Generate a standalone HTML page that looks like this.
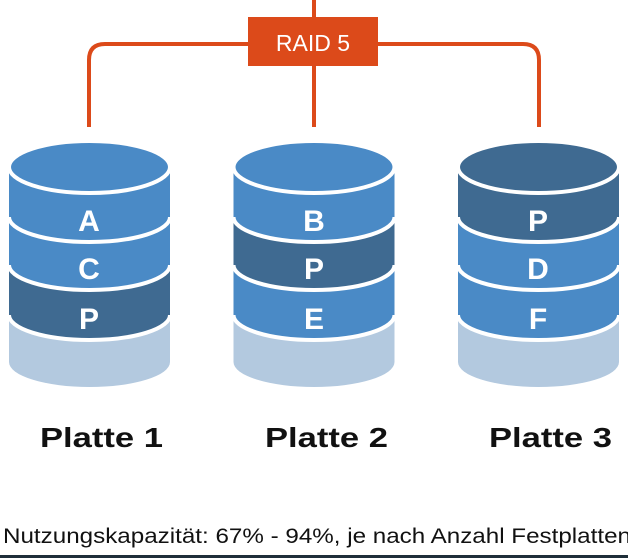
<!DOCTYPE html>
<html><head><meta charset="utf-8"><style>
html,body{margin:0;padding:0;background:#fff;width:628px;height:558px;overflow:hidden}
</style></head><body>
<svg width="628" height="558" viewBox="0 0 628 558" xmlns="http://www.w3.org/2000/svg" style="display:block">
<g fill="none" stroke="#dc4a1a" stroke-width="4">
<line x1="314" y1="0" x2="314" y2="18"/>
<line x1="314" y1="66" x2="314" y2="127"/>
<path d="M89 127 V60 Q89 44 105 44 H523 Q539 44 539 60 V127"/>
</g>
<rect x="248" y="17" width="130" height="49" fill="#dc4a1a"/>
<text x="313" y="51" font-family="Liberation Sans, sans-serif" font-size="23" fill="#fff" text-anchor="middle">RAID 5</text>
<defs>
<g id="arcs" fill="none" stroke="#fff" stroke-width="4">
<path d="M9 217 A80.5 25 0 0 0 170 217"/>
<path d="M9 265 A80.5 25 0 0 0 170 265"/>
<path d="M9 315 A80.5 25 0 0 0 170 315"/>
</g>
</defs>
<g>
<path d="M9 315 V362 A80.5 25 0 0 0 170 362 V315 Z" fill="#b3c9df"/>
<path d="M9 265 V315 A80.5 25 0 0 0 170 315 V265 Z" fill="#3f6a91"/>
<path d="M9 217 V265 A80.5 25 0 0 0 170 265 V217 Z" fill="#4a8ac6"/>
<path d="M9 167 V217 A80.5 25 0 0 0 170 217 V167 Z" fill="#4a8ac6"/>
<use href="#arcs"/>
<ellipse cx="89.5" cy="167" rx="80.5" ry="26" fill="#4a8ac6" stroke="#fff" stroke-width="4"/>
</g>
<g transform="translate(224.5 0)">
<path d="M9 315 V362 A80.5 25 0 0 0 170 362 V315 Z" fill="#b3c9df"/>
<path d="M9 265 V315 A80.5 25 0 0 0 170 315 V265 Z" fill="#4a8ac6"/>
<path d="M9 217 V265 A80.5 25 0 0 0 170 265 V217 Z" fill="#3f6a91"/>
<path d="M9 167 V217 A80.5 25 0 0 0 170 217 V167 Z" fill="#4a8ac6"/>
<use href="#arcs"/>
<ellipse cx="89.5" cy="167" rx="80.5" ry="26" fill="#4a8ac6" stroke="#fff" stroke-width="4"/>
</g>
<g transform="translate(449 0)">
<path d="M9 315 V362 A80.5 25 0 0 0 170 362 V315 Z" fill="#b3c9df"/>
<path d="M9 265 V315 A80.5 25 0 0 0 170 315 V265 Z" fill="#4a8ac6"/>
<path d="M9 217 V265 A80.5 25 0 0 0 170 265 V217 Z" fill="#4a8ac6"/>
<path d="M9 167 V217 A80.5 25 0 0 0 170 217 V167 Z" fill="#3f6a91"/>
<use href="#arcs"/>
<ellipse cx="89.5" cy="167" rx="80.5" ry="26" fill="#3f6a91" stroke="#fff" stroke-width="4"/>
</g>
<g font-family="Liberation Sans, sans-serif" font-size="30" font-weight="bold" fill="#fff" text-anchor="middle">
<text x="89" y="231">A</text><text x="89" y="279">C</text><text x="89" y="329">P</text>
<text x="314" y="231">B</text><text x="314" y="279">P</text><text x="314" y="329">E</text>
<text x="538" y="231">P</text><text x="538" y="279">D</text><text x="538" y="329">F</text>
</g>
<g font-family="Liberation Sans, sans-serif" font-size="28" font-weight="bold" fill="#111">
<text x="40" y="447" textLength="123" lengthAdjust="spacingAndGlyphs">Platte 1</text>
<text x="265" y="447" textLength="123" lengthAdjust="spacingAndGlyphs">Platte 2</text>
<text x="489" y="447" textLength="123" lengthAdjust="spacingAndGlyphs">Platte 3</text>
</g>
<text x="3" y="543" font-family="Liberation Sans, sans-serif" font-size="21" fill="#111" textLength="628" lengthAdjust="spacingAndGlyphs">Nutzungskapazität: 67% - 94%, je nach Anzahl Festplatten</text>
<rect x="0" y="555" width="628" height="3" fill="#1f2f3a"/>
</svg>
</body></html>
